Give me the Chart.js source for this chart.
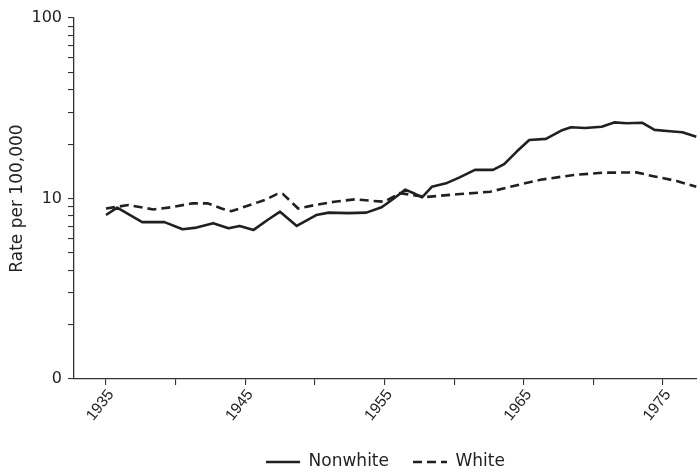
<!DOCTYPE html>
<html>
<head>
<meta charset="utf-8">
<script src="https://cdn.jsdelivr.net/npm/chart.js@4/dist/chart.umd.min.js"></script>
<style>
  html, body { margin: 0; padding: 0; background: #ffffff; overflow: hidden; }
  #wrap { width: 697px; height: 473px; }
</style>
</head>
<body>
<div id="wrap"><canvas id="chart" width="697" height="473"></canvas></div>
<script>
// Rate per 100,000, yearly readings
const nonwhiteYears = [1935.0, 1935.8, 1937.6, 1939.2, 1940.5, 1941.5, 1942.7, 1943.8, 1944.6, 1945.6,
  1946.6, 1947.5, 1948.7, 1950.1, 1951.0, 1952.4, 1953.7, 1954.8, 1955.6, 1956.5,
  1957.1, 1957.7, 1958.4, 1959.5, 1960.4, 1961.5, 1962.8, 1963.6, 1964.5, 1965.4,
  1966.6, 1967.7, 1968.4, 1969.4, 1970.6, 1971.5, 1972.4, 1973.5, 1974.4, 1975.5,
  1976.4, 1977.4];
const nonwhiteRates = [8.1, 8.9, 7.4, 7.4, 6.75, 6.9, 7.3, 6.85, 7.05, 6.7,
  7.6, 8.45, 7.05, 8.1, 8.35, 8.3, 8.35, 8.95, 9.9, 11.2,
  10.7, 10.15, 11.6, 12.2, 13.1, 14.4, 14.4, 15.5, 18.2, 21.1,
  21.4, 23.8, 24.8, 24.6, 25.0, 26.4, 26.1, 26.3, 24.0, 23.6,
  23.3, 22.0];

const whiteYears = [1935.0, 1936.6, 1938.4, 1939.7, 1941.2, 1942.3, 1943.3, 1944.0, 1945.5, 1946.4,
  1947.3, 1947.7, 1948.8, 1950.0, 1951.4, 1952.9, 1954.1, 1955.0, 1956.1, 1958.0,
  1960.2, 1962.6, 1963.8, 1966.2, 1968.6, 1970.7, 1973.1, 1974.3, 1976.0, 1977.4];
const whiteRates = [8.8, 9.2, 8.7, 8.95, 9.4, 9.4, 8.8, 8.5, 9.3, 9.8,
  10.6, 10.6, 8.8, 9.2, 9.6, 9.9, 9.7, 9.6, 10.7, 10.2,
  10.55, 10.9, 11.5, 12.7, 13.5, 13.9, 13.95, 13.3, 12.5, 11.6];

const xTickYears = [1935, 1940, 1945, 1950, 1955, 1960, 1965, 1970, 1975];
const yTickValues = [1, 2, 3, 4, 5, 6, 7, 8, 9, 10, 20, 30, 40, 50, 60, 70, 80, 90, 100];
const yTickLabels = { 1: '0', 10: '10', 100: '100' };

const seriesNames = ['Nonwhite', 'White'];

const INK = '#231f20';
const AXIS = '#333333';
const FONT = "'DejaVu Sans', 'Liberation Sans', Arial, sans-serif";
const YEAR_FONT = "'Liberation Sans', Arial, sans-serif";
const LEGEND_GAP = 24;

function toPoints(xs, ys) {
  return xs.map((x, i) => ({ x: x, y: ys[i] }));
}

new Chart(document.getElementById('chart'), {
  type: 'line',
  data: {
    datasets: [
      {
        label: seriesNames[0],
        data: toPoints(nonwhiteYears, nonwhiteRates),
        borderColor: INK,
        backgroundColor: INK,
        borderWidth: 2.6,
        pointRadius: 0,
        tension: 0,
        borderJoinStyle: 'round'
      },
      {
        label: seriesNames[1],
        data: toPoints(whiteYears, whiteRates),
        borderColor: INK,
        backgroundColor: INK,
        borderWidth: 2.6,
        borderDash: [9, 5],
        pointRadius: 0,
        tension: 0
      }
    ]
  },
  options: {
    responsive: false,
    animation: false,
    // the negative bottom value lets the legend row sit close to the lower edge
    layout: { padding: { top: 18, left: 0, right: 0, bottom: -7.5 } },
    plugins: {
      tooltip: { enabled: false },
      legend: {
        position: 'bottom',
        fullSize: false,
        labels: {
          usePointStyle: true,
          pointStyleWidth: 34,
          boxHeight: 17,
          padding: LEGEND_GAP,
          color: INK,
          font: { family: FONT, size: 17 },
          generateLabels: (chart) => chart.data.datasets.map((ds, i) => ({
            text: ds.label,
            fillStyle: ds.borderColor,
            strokeStyle: ds.borderColor,
            fontColor: INK,
            lineWidth: ds.borderWidth,
            lineDash: ds.borderDash || [],
            lineCap: 'butt',
            pointStyle: 'line',
            hidden: false,
            datasetIndex: i
          }))
        }
      }
    },
    scales: {
      x: {
        type: 'linear',
        min: 1932.7,
        max: 1977.45,
        afterBuildTicks: (scale) => { scale.ticks = xTickYears.map(v => ({ value: v })); },
        afterFit: (scale) => { scale.height = 74.5 - LEGEND_GAP; },
        border: { display: true, color: AXIS, width: 1.3 },
        grid: { drawOnChartArea: false, drawTicks: true, tickLength: 6, color: AXIS, lineWidth: 1.1 },
        ticks: {
          autoSkip: false,
          minRotation: 52,
          maxRotation: 52,
          padding: 1,
          labelOffset: 5,
          color: INK,
          font: { family: YEAR_FONT, size: 15.5 },
          callback: (v) => (v % 10 === 5 ? String(v) : '')
        }
      },
      y: {
        type: 'logarithmic',
        min: 1,
        max: 100,
        afterBuildTicks: (scale) => { scale.ticks = yTickValues.map(v => ({ value: v })); },
        afterFit: (scale) => { scale.width = 74; },
        border: { display: true, color: AXIS, width: 1.3 },
        grid: { drawOnChartArea: false, drawTicks: true, tickLength: 6, color: AXIS, lineWidth: 1.1 },
        title: {
          display: true,
          text: 'Rate per 100,000',
          color: INK,
          font: { family: FONT, size: 17 },
          padding: { top: 7, bottom: 0 }
        },
        ticks: {
          autoSkip: false,
          padding: 6,
          color: INK,
          font: { family: FONT, size: 16 },
          callback: (v) => (yTickLabels[v] !== undefined ? yTickLabels[v] : '')
        }
      }
    }
  }
});
</script>
</body>
</html>
